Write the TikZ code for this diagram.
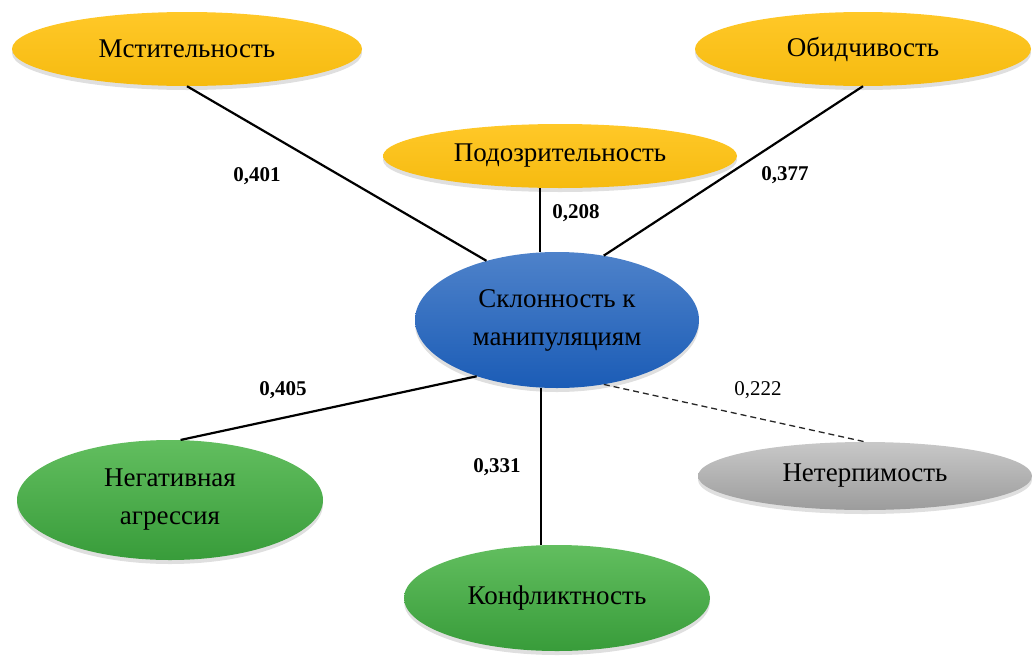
\documentclass[tikz,border=0pt]{standalone}
\usepackage{fontspec}
\setmainfont{Liberation Serif}
\usetikzlibrary{
  shapes.geometric, % эллипсы
  shadows           % тени под эллипсами
}
\definecolor{traitTop}{HTML}{FFC828}
\definecolor{traitBot}{HTML}{F6BB10}
\definecolor{coreTop}{HTML}{4E82CA}
\definecolor{coreBot}{HTML}{1B5CB6}
\definecolor{greenTop}{HTML}{62BE5F}
\definecolor{greenBot}{HTML}{389C3A}
\definecolor{grayTop}{HTML}{C8C8C8}
\definecolor{grayBot}{HTML}{9C9C9C}
\tikzset{
  trait/.style={
    ellipse,
    inner sep=0pt,
    align=center,
    font=\fontsize{27}{38}\selectfont,
    drop shadow={opacity=0.25, shadow xshift=0pt, shadow yshift=-4pt}
  },
  yellow trait/.style={trait, top color=traitTop, bottom color=traitBot},
  core trait/.style={trait, top color=coreTop, bottom color=coreBot},
  green trait/.style={trait, top color=greenTop, bottom color=greenBot},
  gray trait/.style={trait, top color=grayTop, bottom color=grayBot},
  link/.style={
    line width=2.2pt,
    color=black
  },
  weak link/.style={
    line width=1.3pt,
    dash pattern=on 6pt off 4pt,
    color=black!85
  },
  weight/.style={
    font=\fontsize{21}{21}\selectfont\bfseries
  }
}

\begin{document}
\begin{tikzpicture}[x=1pt, y=-1pt]
    \useasboundingbox (0,0) rectangle (1033,659);

    % --- центр ---
    \node[core trait, minimum width=284pt, minimum height=136pt] (cen) at (557,320)
      {Склонность к\\манипуляциям};

    % --- верхний ряд ---
    \node[yellow trait, minimum width=350pt, minimum height=74pt] (mst) at (187,49) {Мстительность};
    \node[yellow trait, minimum width=336pt, minimum height=74pt] (obi) at (863,49) {Обидчивость};
    \node[yellow trait, minimum width=354pt, minimum height=64pt] (pod) at (560,156) {Подозрительность};

    % --- нижний ряд ---
    \node[green trait, minimum width=306pt, minimum height=120pt] (neg) at (170,500)
      {Негативная\\агрессия};
    \node[green trait, minimum width=306pt, minimum height=106pt] (kon) at (557,598) {Конфликтность};
    \node[gray trait, minimum width=334pt, minimum height=68pt] (net) at (865,476) {Нетерпимость};

    % связи
    \draw[link] (mst.south) -- (cen.140);
    \draw[link] (pod.238) -- (pod.238 |- cen.north);
    \draw[link] (obi.south) -- (cen.54);
    \draw[link] (neg.80) -- (cen.215);
    \draw[link] (cen.257) -- (cen.257 |- kon.north);
    \draw[weak link] (cen.306) -- (net.north);

    % коэффициенты
    \node[weight] (w401) at (257,176) {0,401};
    \node[weight] (w208) at (576,213) {0,208};
    \node[weight] (w377) at (785,175) {0,377};
    \node[weight] (w405) at (283,390) {0,405};
    \node[weight] (w331) at (497,467) {0,331};
    \node[font=\fontsize{21}{21}\selectfont] (w222) at (758,390) {0,222};
\end{tikzpicture}
\end{document}
